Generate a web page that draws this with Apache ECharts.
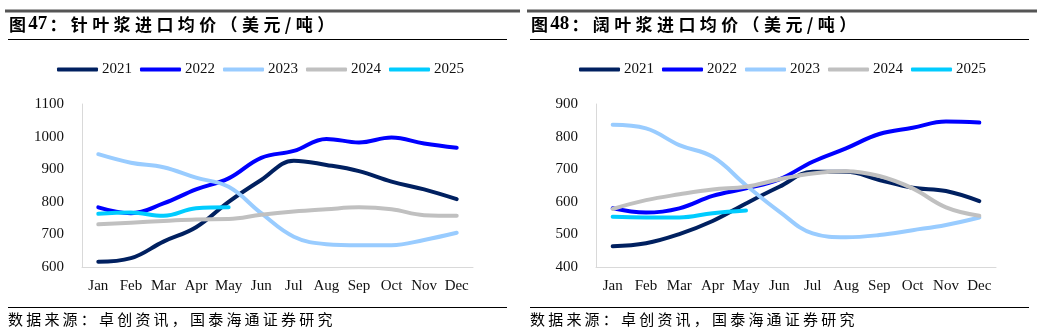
<!DOCTYPE html>
<html><head><meta charset="utf-8">
<script src="https://cdn.jsdelivr.net/npm/echarts@6/dist/echarts.min.js"></script>
<style>html,body{margin:0;padding:0;background:#fff}#c{width:1037px;height:335px}</style>
</head><body><div id="c"></div>
<script>
const months = ['Jan','Feb','Mar','Apr','May','Jun','Jul','Aug','Sep','Oct','Nov','Dec'];
const years = ['2021','2022','2023','2024','2025'];
const colors = ['#002060','#0000FF','#99CCFF','#C0C0C0','#00CCFF'];

// 针叶浆 (softwood) import price, USD/t
const sw2021 = [616, 627, 678, 722, 800, 867, 926, 913, 894, 862, 838, 808];
const sw2022 = [783, 765, 795, 838, 872, 935, 956, 993, 982, 997, 979, 966];
const sw2023 = [946, 920, 906, 874, 846, 765, 693, 670, 667, 667, 683, 705];
const sw2024 = [731, 736, 741, 746, 747, 760, 770, 777, 783, 777, 759, 757];
const sw2025 = [763, 767, 757, 780, 783];

// 阔叶浆 (hardwood) import price, USD/t
const hw2021 = [464, 473, 501, 541, 595, 646, 692, 692, 667, 643, 633, 602];
const hw2022 = [580, 567, 580, 618, 641, 669, 723, 764, 808, 827, 846, 843];
const hw2023 = [836, 825, 774, 738, 651, 570, 503, 491, 498, 513, 529, 552];
const hw2024 = [578, 605, 623, 638, 646, 669, 687, 694, 679, 641, 583, 557];
const hw2025 = [554, 552, 552, 565, 573];

const leftTicks = {min: 600, max: 1100, interval: 100};
const rightTicks = {min: 400, max: 900, interval: 100};

const titleNumL = '47';
const titleNumR = '48';
const titleText = ['针叶浆进口均价（美元/吨）', '阔叶浆进口均价（美元/吨）'];
const source = '数据来源：卓创资讯，国泰海通证券研究';

const serif = '"Liberation Serif", "Times New Roman", serif';
const cjk = '"Noto Sans CJK SC", sans-serif';

function spaced(s, key){ return s.split('').map(ch => '{' + key + '|' + ch + '}').join(''); }

const chart = echarts.init(document.getElementById('c'), null, {renderer:'canvas'});

function axisX(gi){
  return {type:'category', gridIndex:gi, data:months, boundaryGap:true,
    axisLine:{show:true, lineStyle:{color:'#D9D9D9', width:1}}, axisTick:{show:false},
    axisLabel:{color:'#111', fontFamily:serif, fontSize:15, margin:12, interval:0}};
}
function axisY(gi, t){
  return {type:'value', gridIndex:gi, min:t.min, max:t.max, interval:t.interval,
    axisLine:{show:true, lineStyle:{color:'#D9D9D9', width:1}}, axisTick:{show:false},
    splitLine:{show:false},
    axisLabel:{color:'#111', fontFamily:serif, fontSize:15, margin:18, formatter: v => String(v)}};
}
function mkSeries(name, data, idx, gi){
  return {name:name, type:'line', xAxisIndex:gi, yAxisIndex:gi, data:data, smooth:0.4,
    symbol:'none', lineStyle:{width:4, color:colors[idx], cap:'round', join:'round'},
    itemStyle:{color:colors[idx]}, z: 2+idx};
}
function legend(left){
  return {left:left, top:57, itemWidth:41, itemHeight:4, itemGap:8, icon:'roundRect',
    textStyle:{fontFamily:serif, fontSize:15, color:'#111', padding:[0,0,0,-1]},
    data: years};
}

const sL = [sw2021, sw2022, sw2023, sw2024, sw2025];
const sR = [hw2021, hw2022, hw2023, hw2024, hw2025];

const series = years.map((y,i)=>mkSeries(y, sL[i], i, 0))
  .concat(years.map((y,i)=>mkSeries(y, sR[i], i, 1)));

const titleRich = {
  c:{fontFamily:cjk, fontWeight:'bold', fontSize:17, color:'#000', padding:[0,2.2]},
  n:{fontFamily:serif, fontWeight:'bold', fontSize:19, color:'#000', padding:[0,0]}
};
const srcRich = {s:{fontFamily:cjk, fontSize:15, color:'#000', padding:[0,1.6]}};

function graphicsFor(x0, x1, num, text){
  const t = '{c|图}{n|' + num + '}{c|：}' + spaced(text, 'c');
  return [
    {type:'line', shape:{x1:x0-3, y1:11, x2:x1+13, y2:11}, style:{stroke:'#555', lineWidth:3}},
    {type:'text', left:x0+1, top:15, style:{text:t, rich:titleRich}},
    {type:'line', shape:{x1:x0, y1:39.5, x2:x1, y2:39.5}, style:{stroke:'#000', lineWidth:1}},
    {type:'line', shape:{x1:x0, y1:307.5, x2:x1, y2:307.5}, style:{stroke:'#000', lineWidth:1}},
    {type:'text', left:x0, top:312, style:{text:spaced(source,'s'), rich:srcRich}}
  ];
}

chart.setOption({
  animation:false,
  grid:[{left:82, right:564, top:104, bottom:68}, {left:596, right:41, top:104, bottom:68}],
  xAxis:[axisX(0), axisX(1)],
  yAxis:[axisY(0, leftTicks), axisY(1, rightTicks)],
  legend:[legend(52), legend(574)],
  series: series,
  graphic: graphicsFor(8, 507, titleNumL, titleText[0]).concat(graphicsFor(530, 1029, titleNumR, titleText[1]))
});
</script></body></html>
